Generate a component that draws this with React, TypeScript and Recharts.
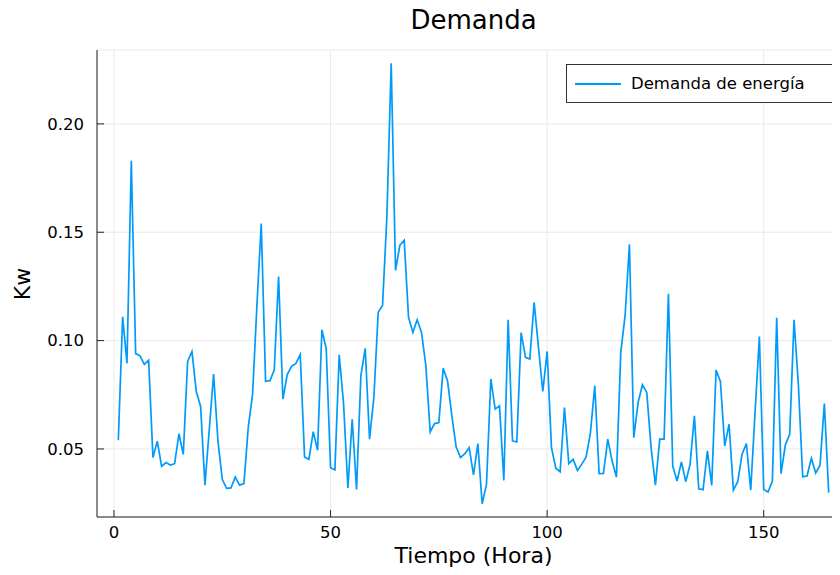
import { LineChart, Line, XAxis, YAxis, CartesianGrid } from 'recharts';

// demanda horaria (Kw), horas 1..165
const demanda: number[] = [
  0.054, 0.111, 0.0895, 0.183, 0.094, 0.093, 0.089, 0.091, 0.046, 0.0536,
  0.042, 0.0437, 0.0426, 0.0432, 0.057, 0.0475, 0.0904, 0.095, 0.0765, 0.0696,
  0.0333, 0.059, 0.0846, 0.0537, 0.036, 0.0318, 0.032, 0.037, 0.0333, 0.034,
  0.06, 0.0753, 0.1162, 0.154, 0.0812, 0.0815, 0.0864, 0.1296, 0.073, 0.0843,
  0.0881, 0.0895, 0.0935, 0.0463, 0.0452, 0.058, 0.0494, 0.105, 0.0962, 0.0413,
  0.0403, 0.0934, 0.071, 0.032, 0.0637, 0.0313, 0.0838, 0.0964, 0.0545, 0.0738,
  0.1131, 0.1162, 0.157, 0.228, 0.1324, 0.144, 0.1463, 0.1108, 0.1038, 0.1096,
  0.1038, 0.0884, 0.0579, 0.0617, 0.0622, 0.0872, 0.0815, 0.0653, 0.0509, 0.046,
  0.0478, 0.0506, 0.038, 0.0525, 0.0247, 0.0336, 0.0823, 0.0684, 0.0699, 0.0355,
  0.1096, 0.0537, 0.0532, 0.1037, 0.0923, 0.0915, 0.1177, 0.0969, 0.0765, 0.095,
  0.0506, 0.0411, 0.0395, 0.0691, 0.0432, 0.0452, 0.0401, 0.043, 0.0462, 0.0575,
  0.0792, 0.0386, 0.0387, 0.0545, 0.0444, 0.037, 0.0946, 0.1116, 0.1444, 0.0552,
  0.0714, 0.0796, 0.0761, 0.0506, 0.0333, 0.0545, 0.0545, 0.1216, 0.0421, 0.0352,
  0.044, 0.0349, 0.0429, 0.0653, 0.0316, 0.0312, 0.0491, 0.0332, 0.0864, 0.0812,
  0.0514, 0.0614, 0.031, 0.0349, 0.0475, 0.0525, 0.031, 0.0668, 0.1019, 0.0313,
  0.0301, 0.0352, 0.1105, 0.0386, 0.0519, 0.0568, 0.1096, 0.0796, 0.0372, 0.0375,
  0.0457, 0.0389, 0.0425, 0.071, 0.0298,
];

const xTicks = [0, 50, 100, 150];
const yTicks = [0.05, 0.1, 0.15, 0.2];

const data = demanda.map((kw, i) => ({ hora: i + 1, kw }));

const FONT = '"DejaVu Sans", sans-serif';
const COLOR = '#009afa';

function LegendBox() {
  return (
    <div
      style={{
        position: 'absolute',
        left: 566,
        top: 64,
        width: 270,
        height: 39,
        border: '1px solid #333',
        background: '#fff',
        boxSizing: 'border-box',
        display: 'flex',
        alignItems: 'center',
        fontFamily: FONT,
        fontSize: 16.5,
        color: '#000',
      }}
    >
      <div style={{ width: 46, height: 2, background: COLOR, marginLeft: 8, marginRight: 10 }} />
      <span>Demanda de energía</span>
    </div>
  );
}

export default function App() {
  return (
    <div style={{ position: 'relative', width: 840, height: 575, margin: -8, overflow: 'hidden', background: '#fff' }}>
      <div
        style={{
          position: 'absolute', left: 0, top: 5, width: 947, textAlign: 'center',
          fontFamily: FONT, fontSize: 26, color: '#000',
        }}
      >
        Demanda
      </div>
      <LineChart width={860} height={575} data={data} margin={{ top: 50, right: 10, left: 0, bottom: 0 }}>
        <CartesianGrid stroke="#e9e9e9" strokeWidth={1} />
        <XAxis
          dataKey="hora"
          type="number"
          domain={[-3.92, 169.92]}
          allowDataOverflow
          ticks={xTicks}
          height={58}
          tickSize={-7}
          tickMargin={16}
          stroke="#222"
          tick={{ fontSize: 16.5, fill: '#000', fontFamily: FONT }}
        />
        <YAxis
          type="number"
          domain={[0.0186, 0.2341]}
          allowDataOverflow
          ticks={yTicks}
          width={97}
          tickSize={-7}
          tickMargin={20}
          stroke="#222"
          tickFormatter={(v: number) => v.toFixed(2)}
          tick={{ fontSize: 16.5, fill: '#000', fontFamily: FONT }}
        />
        <Line
          type="linear"
          dataKey="kw"
          stroke={COLOR}
          strokeWidth={1.7}
          dot={false}
          isAnimationActive={false}
        />
      </LineChart>
      <LegendBox />
      <div
        style={{
          position: 'absolute', left: 97, top: 543, width: 753, textAlign: 'center',
          fontFamily: FONT, fontSize: 22, color: '#000',
        }}
      >
        Tiempo (Hora)
      </div>
      <div
        style={{
          position: 'absolute', left: 22, top: 284, transform: 'translate(-50%, -50%) rotate(-90deg)',
          fontFamily: FONT, fontSize: 22, color: '#000', whiteSpace: 'nowrap',
        }}
      >
        Kw
      </div>
    </div>
  );
}
